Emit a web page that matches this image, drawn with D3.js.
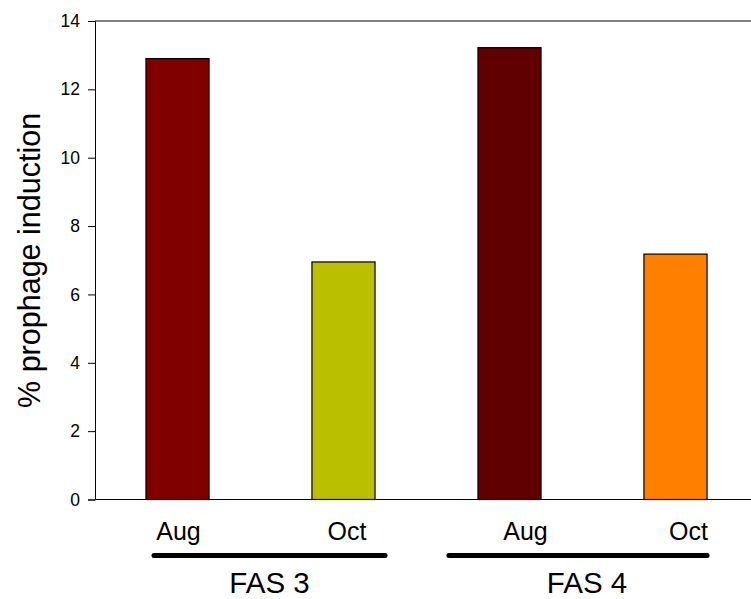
<!DOCTYPE html>
<html><head><meta charset="utf-8">
<script src="https://cdn.jsdelivr.net/npm/d3@7/dist/d3.min.js"></script>
<style>body{margin:0;background:#fff}svg{display:block}text{font-family:"Liberation Sans",Arial,sans-serif}</style>
</head><body>
<script>
const categories = ["FAS 3 Aug", "FAS 3 Oct", "FAS 4 Aug", "FAS 4 Oct"];
const monthLabels = ["Aug", "Oct", "Aug", "Oct"];
const values = [12.9, 6.95, 13.22, 7.18];
const colors = ["#800000", "#BABF00", "#600000", "#FF8000"];
const groups = ["FAS 3", "FAS 4"];
const yTicks = [0, 2, 4, 6, 8, 10, 12, 14];
const yLabel = "% prophage induction";

const W = 751, H = 599;
const svg = d3.select("body").append("svg").attr("width", W).attr("height", H);

const y = d3.scaleLinear().domain([0, 14]).range([499.5, 21]);
const x = d3.scaleBand().domain(categories).range([95, 758]).paddingInner(0.62).paddingOuter(0.307);

// top frame line
svg.append("line").attr("x1", 95).attr("x2", W).attr("y1", y(14)).attr("y2", y(14))
  .attr("stroke", "#000").attr("stroke-width", 1);

// bars
svg.selectAll("rect.bar").data(values).join("rect").attr("class", "bar")
  .attr("x", (d, i) => x(categories[i]))
  .attr("y", d => y(d))
  .attr("width", x.bandwidth())
  .attr("height", d => y(0) - y(d))
  .attr("fill", (d, i) => colors[i])
  .attr("stroke", "#000").attr("stroke-width", 1.2);

// y axis
const yAxis = svg.append("g").attr("transform", "translate(95,0)")
  .call(d3.axisLeft(y).tickValues(yTicks).tickSize(7).tickPadding(8).tickFormat(d3.format("d")));
yAxis.select(".domain").attr("stroke", "#000");
yAxis.selectAll("text").attr("font-size", 17.5).attr("fill", "#000");

// x axis baseline
const xAxis = svg.append("g").attr("transform", `translate(0,${y(0)})`)
  .call(d3.axisBottom(x).tickSize(0).tickFormat(""));
xAxis.select(".domain").attr("d", `M95,0H${W}`).attr("stroke", "#000");

// month labels
const labelShift = [1, 3.5, 16, 13];
svg.selectAll("text.month").data(monthLabels).join("text").attr("class", "month")
  .attr("x", (d, i) => x(categories[i]) + x.bandwidth() / 2 + labelShift[i])
  .attr("y", 539.5)
  .attr("text-anchor", "middle").attr("font-size", 25).text(d => d);

// group lines and labels
const groupSpan = [
  [x(categories[0]) + 8, x(categories[1]) + x.bandwidth() + 10],
  [x(categories[2]) - 29, x(categories[3]) + x.bandwidth()]
];
const groupTextX = [269.5, 587];
groups.forEach((g, i) => {
  svg.append("line").attr("x1", groupSpan[i][0]).attr("x2", groupSpan[i][1])
    .attr("y1", 555.5).attr("y2", 555.5)
    .attr("stroke", "#000").attr("stroke-width", 5).attr("stroke-linecap", "round");
  svg.append("text").attr("x", groupTextX[i]).attr("y", 592.5)
    .attr("text-anchor", "middle").attr("font-size", 29.5).text(g);
});

// y label
svg.append("text").attr("transform", `translate(40,260.4) rotate(-90)`)
  .attr("text-anchor", "middle").attr("font-size", 30.5).text(yLabel);
</script>
</body></html>
